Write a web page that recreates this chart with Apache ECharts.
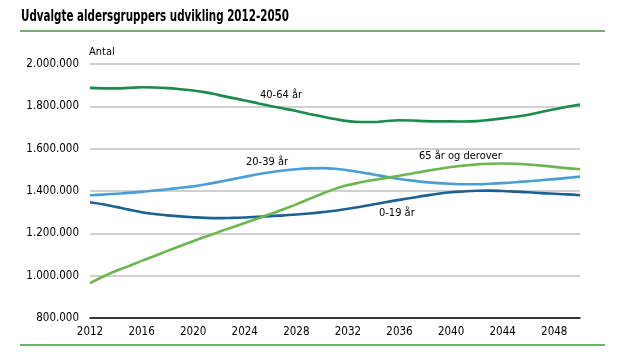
<!DOCTYPE html>
<html><head><meta charset="utf-8">
<script src="https://cdn.jsdelivr.net/npm/echarts@6/dist/echarts.min.js"></script>
<style>html,body{margin:0;padding:0;background:#fff}#c{width:621px;height:358px}</style>
</head><body><div id="c"></div>
<script>
const years = [];
for (let y = 2012; y <= 2050; y++) years.push(String(y));
const age40_64 = [1887000,1885000,1885000,1887000,1890000,1889000,1886000,1881000,1875000,1866000,1853000,1840000,1828000,1815000,1802000,1790000,1778000,1764000,1752000,1740000,1730000,1726000,1726000,1731000,1734000,1733000,1730000,1729000,1729000,1728000,1730000,1736000,1743000,1751000,1760000,1773000,1786000,1798000,1808000];
const age20_39 = [1380000,1383000,1387000,1391000,1396000,1402000,1408000,1415000,1422000,1432000,1443000,1455000,1467000,1479000,1489000,1497000,1503000,1507000,1508000,1505000,1498000,1489000,1478000,1467000,1457000,1449000,1442000,1437000,1434000,1432000,1432000,1434000,1437000,1441000,1446000,1451000,1456000,1462000,1468000];
const age0_19 = [1347000,1337000,1325000,1312000,1300000,1291000,1285000,1280000,1276000,1273000,1272000,1273000,1275000,1278000,1281000,1285000,1289000,1294000,1300000,1307000,1316000,1326000,1337000,1348000,1358000,1368000,1378000,1387000,1394000,1398000,1401000,1402000,1400000,1397000,1394000,1390000,1387000,1384000,1380000];
const age65 = [965000,995000,1022000,1045000,1070000,1093000,1117000,1140000,1163000,1185000,1207000,1228000,1249000,1270000,1291000,1314000,1337000,1362000,1387000,1410000,1428000,1441000,1452000,1462000,1472000,1483000,1494000,1504000,1513000,1520000,1526000,1529000,1530000,1529000,1525000,1520000,1514000,1508000,1503000];
const seriesNames = ['40-64 år','20-39 år','0-19 år','65 år og derover'];
const title = 'Udvalgte aldersgruppers udvikling 2012-2050';
const yName = 'Antal';

const chart = echarts.init(document.getElementById('c'));
const fmt = v => String(v).replace(/\B(?=(\d{3})+(?!\d))/g, '.');
const font = 'DejaVu Sans Condensed';
const titleFont = 'bold 15px "DejaVu Sans Condensed"';
const cv = document.createElement('canvas').getContext('2d');
cv.font = titleFont;
const titleScale = Math.min(1, 268 / cv.measureText(title).width);
function line(name, data, color) {
  return {name, type:'line', data, smooth:0.4, symbol:'none', lineStyle:{width:2.6, color}, itemStyle:{color}};
}
const lbl = '11px "DejaVu Sans Condensed"';
chart.setOption({
  animation:false,
  textStyle:{fontFamily:font},
  grid:{left:90, right:41, top:64, bottom:40},
  xAxis:{type:'category', data:years, boundaryGap:false,
    axisLine:{lineStyle:{color:'#000', width:1.5}}, axisTick:{show:false},
    axisLabel:{interval:3, color:'#000', fontSize:11.5, fontFamily:font, margin:8}},
  yAxis:{type:'value', min:800000, max:2000000, interval:200000,
    axisLine:{show:false}, axisTick:{show:false},
    splitLine:{lineStyle:{color:'#c0c0c0', width:1.5}},
    axisLabel:{formatter:fmt, color:'#000', fontSize:11.5, fontFamily:font, margin:11}},
  series:[
    line(seriesNames[0], age40_64, '#1b8a4b'),
    line(seriesNames[1], age20_39, '#4a9ed6'),
    line(seriesNames[2], age0_19, '#1b6192'),
    line(seriesNames[3], age65, '#6cb64e')
  ],
  graphic:[
    {type:'text', x:21, y:10, scaleX:titleScale, style:{text:title, font:titleFont, fill:'#000'}},
    {type:'line', shape:{x1:20, y1:31, x2:605, y2:31}, style:{stroke:'#3c9a3c', lineWidth:1.4}},
    {type:'line', shape:{x1:20, y1:345, x2:605, y2:345}, style:{stroke:'#3c9a3c', lineWidth:1.4}},
    {type:'text', left:89, top:47, style:{text:yName, font:lbl, fill:'#000'}},
    {type:'text', left:260, top:90, style:{text:seriesNames[0], font:lbl, fill:'#000'}},
    {type:'text', left:246, top:157, style:{text:seriesNames[1], font:lbl, fill:'#000'}},
    {type:'text', left:379, top:208, style:{text:seriesNames[2], font:lbl, fill:'#000'}},
    {type:'text', left:419, top:151, style:{text:seriesNames[3], font:lbl, fill:'#000'}}
  ]
});
</script></body></html>
